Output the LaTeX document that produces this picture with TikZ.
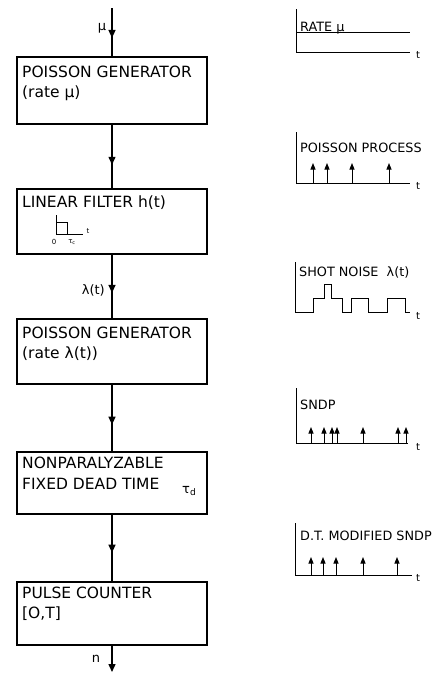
\documentclass[tikz,border=0pt]{standalone}
\usepackage{fontspec}
\setmainfont{DejaVu Sans}
\usetikzlibrary{arrows.meta,decorations.markings}
\tikzset{
  box/.style={draw, line width=1.4pt, minimum width=190pt, inner sep=0pt},
  boxtext/.style={anchor=base west, inner sep=0pt, font=\fontsize{15.5}{18}\selectfont},
  conn/.style={line width=1.4pt},
  midarrow/.style={postaction={decorate}, decoration={markings,
      mark=at position #1 with {\arrow{Triangle[length=8pt,width=7pt]}}}},
  lbl/.style={inner sep=0pt, font=\fontsize{13}{15}\selectfont},
  plottext/.style={anchor=base west, inner sep=0pt, font=\fontsize{12.8}{15}\selectfont},
  tlbl/.style={inner sep=0pt, font=\fontsize{10}{12}\selectfont},
  axis/.style={line width=1pt},
  imp/.style={line width=1pt, -{Triangle[length=6.5pt,width=5pt]}},
  small/.style={inner sep=0pt, font=\fontsize{7}{8}\selectfont}
}
\begin{document}
\begin{tikzpicture}[x=1pt,y=-1pt]
\useasboundingbox (0,0) rectangle (433,673);
% ---- left column boxes
\node[box, minimum height=67pt] (b1) at (112,90.5) {};
\node[box, minimum height=65pt] (b2) at (112,221.5) {};
\node[box, minimum height=65pt] (b3) at (112,351.5) {};
\node[box, minimum height=62pt] (b4) at (112,483) {};
\node[box, minimum height=63pt] (b5) at (112,613.5) {};
% box texts
\node[boxtext] (t1a) at (22,77) {POISSON GENERATOR};
\node[boxtext] (t1b) at (22,97) {(rate μ)};
\node[boxtext] (t2a) at (22,207) {LINEAR FILTER h(t)};
\node[boxtext] (t3a) at (22,338) {POISSON GENERATOR};
\node[boxtext] (t3b) at (22,358) {(rate λ(t))};
\node[boxtext] (t4a) at (22,468) {NONPARALYZABLE};
\node[boxtext] (t4b) at (22,489) {FIXED DEAD TIME};
\node[lbl, anchor=base west] (tau) at (182,493) {τ\textsubscript{d}};
\node[boxtext] (t5a) at (22,598) {PULSE COUNTER};
\node[boxtext] (t5b) at (22,618) {[O,T]};
% filter inset
\draw[line width=1pt] (56,215) -- (56,234) -- (83,234);
\draw[line width=1pt] (56,222) -- (67,222) -- (67,234);
\node[small] (tf) at (88,231) {t};
\node[small] (zero) at (54,242) {0};
\node[small] (tauc) at (72,242) {τ\textsubscript{c}};
% connectors
\coordinate (in) at (112,8);
\coordinate (out) at (112,672);
\draw[conn, midarrow=0.62] (in) -- (b1.north);
\draw[conn, midarrow=0.63] (b1) -- (b2);
\draw[conn, midarrow=0.6] (b2) -- (b3);
\draw[conn, midarrow=0.6] (b3) -- (b4);
\draw[conn, midarrow=0.57] (b4) -- (b5);
\draw[conn, -{Triangle[length=8pt,width=7pt]}] (b5) -- (out);
\node[lbl] (mu) at (102,28) {μ};
\node[lbl, anchor=east] (lam) at (105,290) {λ(t)};
\node[lbl] (n) at (96,659) {n};
% ---- right column plots
% plot 1
\draw[axis] (296,9) -- (296,52) -- (410,52);
\draw[line width=0.8pt] (296,32) -- (410,32);
\node[plottext] (p1) at (300,31) {RATE μ};
\node[tlbl] (p1t) at (418,55) {t};
% plot 2
\draw[axis] (296,132) -- (296,183) -- (410,183);
\node[plottext] (p2) at (300,152) {POISSON PROCESS};
\foreach \x in {313,327,352,389} \draw[imp] (\x,183) -- (\x,163);
\node[tlbl] (p2t) at (418,186) {t};
% plot 3
\draw[axis] (295,262) -- (295,312);
\draw[axis] (295,312) -- (313,312) -- (313,298) -- (324,298) -- (324,284) -- (331,284) -- (331,298)
  -- (342,298) -- (342,312) -- (351,312) -- (351,298) -- (368,298) -- (368,312) -- (387,312)
  -- (387,298) -- (405,298) -- (405,312) -- (410,312);
\node[plottext] (p3) at (299,276) {SHOT NOISE\ \ λ(t)};
\node[tlbl] (p3t) at (418,316) {t};
% plot 4
\draw[axis] (296,388) -- (296,443) -- (408,443);
\node[plottext] (p4) at (300,409) {SNDP};
\foreach \x in {311,324,332,337,363,398,406} \draw[imp] (\x,443) -- (\x,427);
\node[tlbl] (p4t) at (418,447) {t};
% plot 5
\draw[axis] (295,523) -- (295,575) -- (412,575);
\node[plottext] (p5) at (300,540) {D.T. MODIFIED SNDP};
\foreach \x in {311,323,336,363,397} \draw[imp] (\x,575) -- (\x,557);
\node[tlbl] (p5t) at (418,578) {t};
\end{tikzpicture}
\end{document}
